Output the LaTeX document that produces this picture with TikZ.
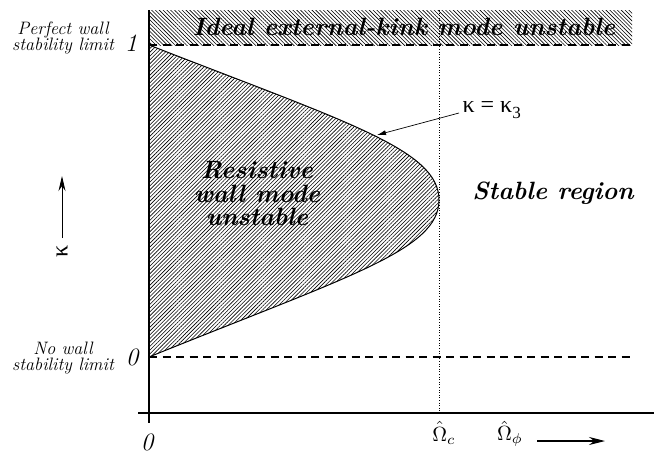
\documentclass[tikz,border=0pt]{standalone}
\usepackage{fontspec}
\usetikzlibrary{patterns.meta,arrows.meta}
\newfontfamily\grk{Liberation Serif}
\begin{document}
\begin{tikzpicture}[x=1pt,y=-1pt,
  axis/.style={line width=1.1pt},
  dashline/.style={line width=1.1pt,dash pattern=on 8pt off 5.5pt},
  hatchR/.style={pattern={Lines[angle=45,distance=2.7pt,line width=0.6pt]}},
  hatchL/.style={pattern={Lines[angle=-45,distance=2.7pt,line width=0.6pt]}},
  bigbi/.style={font=\fontsize{25}{23.5}\selectfont\bfseries\itshape,align=center},
  sidelab/.style={font=\fontsize{18}{16.5}\selectfont\itshape,align=center},
  numlab/.style={font=\fontsize{25}{25}\selectfont\itshape},
  omlab/.style={inner sep=0pt},
]
\useasboundingbox (0,0) rectangle (654,458);
% coordinates
\coordinate (ytop) at (149,10);
\coordinate (ybot) at (149,423);
\coordinate (xl) at (138,413);
\coordinate (xr) at (654,413);
\coordinate (k1l) at (149,45);
\coordinate (k1r) at (632,45);
\coordinate (k0l) at (149,357);
\coordinate (k0r) at (632,357);
\coordinate (tip) at (439,200);
\coordinate (vtop) at (439,10);
\coordinate (vbot) at (439,413);
% hatched regions
\fill[hatchL] (ytop) rectangle (k1r);
\fill[hatchR] (k1l) .. controls (349,123) and (439,150) .. (tip)
  .. controls (439,250) and (349,276) .. (k0l) -- cycle;
\draw[line width=1pt] (k1l) .. controls (349,123) and (439,150) .. (tip)
  .. controls (439,250) and (349,276) .. (k0l);
% dashed limits
\draw[dashline] (k1l) -- (k1r);
\draw[dashline] (k0l) -- (k0r);
% dotted vertical line
\draw[line width=0.6pt,dotted] (vtop) -- (vbot);
% axes
\draw[axis] (ytop) -- (ybot);
\draw[axis] (xl) -- (xr);
% texts
\node[bigbi] (ideal) at (404,27) {Ideal external-kink mode unstable};
\node[bigbi] (rwm) at (257,194) {Resistive\\wall mode\\unstable};
\node[bigbi] (stable) at (553,193) {Stable region};
\node[sidelab] (perf) at (63,38) {Perfect wall\\stability limit};
\node[sidelab] (nowall) at (63,358) {No wall\\stability limit};
\node[numlab] (one) at (131,43) {1};
\node[numlab] (zero) at (132,357) {0};
\node[numlab] (xzero) at (147,442) {0};
% kappa axis label
\node[font=\grk\fontsize{24}{24}\selectfont,rotate=90] (kap) at (62,251) {κ};
\coordinate (kaptail) at (62,238);
\coordinate (kaphead) at (62,176);
\draw[line width=0.9pt,-{Stealth[length=15pt,width=7pt]}] (kaptail) -- (kaphead);
% kappa3 label
\node[font=\grk\fontsize{24}{24}\selectfont,anchor=west] (k3) at (459,110) {κ = κ\raisebox{-6pt}{\fontsize{17}{17}\selectfont 3}};
\coordinate (k3pt) at (377,135);
\draw[line width=0.7pt,-{Latex[length=9pt,width=5pt]}] (k3.west) ++(0,3) -- (k3pt);
% omega labels
\node[omlab] (omc) at (444,433) {\scalebox{2.05}{$\hat{\Omega}_c$}};
\node[omlab] (omp) at (510,434) {\scalebox{2.05}{$\hat{\Omega}_{\phi}$}};
\coordinate (oa) at (537,441);
\coordinate (ob) at (605,441);
\draw[line width=1.1pt,-{Stealth[length=16pt,width=8pt]}] (oa) -- (ob);
\end{tikzpicture}
\end{document}
